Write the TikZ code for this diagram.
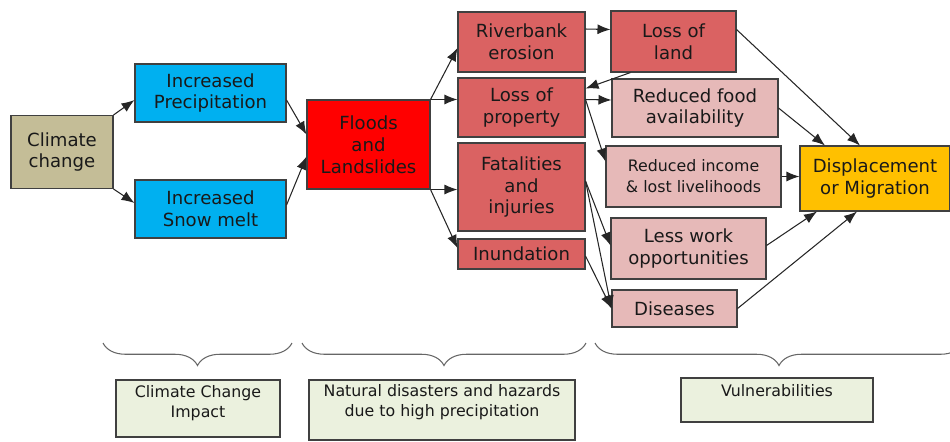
\documentclass[tikz,border=0pt]{standalone}
\usepackage{fontspec}
\setmainfont{DejaVu Sans}
\usepackage{xcolor}
\usetikzlibrary{arrows.meta}
\usetikzlibrary{calc}
\usetikzlibrary{decorations.pathreplacing}

\definecolor{tanbox}{HTML}{C4BD97}
\definecolor{bluebox}{HTML}{00B0F0}
\definecolor{redbox}{HTML}{FF0000}
\definecolor{rosebox}{HTML}{DA6262}
\definecolor{pinkbox}{HTML}{E6B9B8}
\definecolor{orangebox}{HTML}{FFC000}
\definecolor{greenbox}{HTML}{EBF1DE}

\begin{document}
\begin{tikzpicture}[
    x=0.02cm, y=-0.02cm,
    >={Latex[length=2.6mm, width=2mm]},
    box/.style={draw=black!75, line width=0.6pt, align=center, inner sep=1pt,
                text=black!90, font=\fontsize{10.3}{12.5}\selectfont},
    boxsize/.style 2 args={minimum width=#1*0.02cm, minimum height=#2*0.02cm},
    label box/.style={box, fill=greenbox, font=\fontsize{9}{11.5}\selectfont},
    liftby/.style={text depth=#1},
    stage/.style={decorate, decoration={brace, mirror, amplitude=0.45cm},
                  draw=black!60, line width=0.6pt},
    every edge/.append style={draw=black!85, line width=0.6pt, ->}
]
\useasboundingbox (0,0) rectangle (950,441);

% Nodes :
\node[box, fill=tanbox, boxsize={102}{73}] (cc) at (62,152) {Climate\\change};
\node[box, fill=bluebox, boxsize={151}{58}] (prec) at (210.5,93) {Increased\\Precipitation};
\node[box, fill=bluebox, boxsize={151}{58}] (snow) at (210.5,209) {Increased\\Snow melt};
\node[box, fill=redbox, boxsize={123}{89}] (flood) at (368.5,144.5) {Floods\\and\\Landslides};

\node[box, fill=rosebox, boxsize={127}{60}] (erosion) at (521.5,42) {Riverbank\\erosion};
\node[box, fill=rosebox, boxsize={127}{59}] (property) at (521.5,107.5) {Loss of\\property};
\node[box, fill=rosebox, boxsize={127}{88}] (fatal) at (521.5,187) {Fatalities\\and\\injuries};
\node[box, fill=rosebox, boxsize={127}{30}] (inund) at (521.5,254) {Inundation};

\node[box, fill=rosebox, boxsize={125}{61}] (land) at (673.5,41.5) {Loss of\\land};
\node[box, fill=pinkbox, boxsize={166}{58}] (food) at (695,108) {Reduced food\\availability};
\node[box, fill=pinkbox, boxsize={175}{61}, font=\fontsize{9}{12}\selectfont] (income) at (693.5,176.5) {Reduced income\\\& lost livelihoods};
\node[box, fill=pinkbox, boxsize={155}{61}] (work) at (688.5,248.5) {Less work\\opportunities};
\node[box, fill=pinkbox, boxsize={125}{37}] (disease) at (674.5,308.5) {Diseases};

\node[box, fill=orangebox, boxsize={150}{65}] (migr) at (875,178.5) {Displacement\\or Migration};

\node[label box, boxsize={164}{57}, liftby=8pt] (impact) at (198,408.5) {Climate Change\\Impact};
\node[label box, boxsize={266}{60}, liftby=10.5pt] (hazard) at (442,410) {Natural disasters and hazards\\due to high precipitation};
\node[label box, boxsize={192}{44}, liftby=11pt] (vulner) at (777,400) {Vulnerabilities};

% Edges :
\draw (cc.north east) edge ($(prec.west)+(0,7)$);
\draw (cc.south east) edge ($(snow.west)+(0,-6)$);
\draw ($(prec.east)+(0,7)$) edge ($(flood.west)+(0,-10)$);
\draw ($(snow.east)+(0,-4)$) edge ($(flood.west)+(0,12)$);

\draw (flood.north east) edge ($(erosion.west)+(0,6)$);
\draw (flood.north east) edge (flood.north east -| property.west);
\draw (flood.south east) edge (flood.south east -| fatal.west);
\draw (flood.south east) edge ($(inund.west)+(0,-6)$);

\draw ($(erosion.east)+(0,-13)$) edge ($(land.west)+(0,-12)$);
\draw ($(land.south west)+(20,0)$) edge ($(property.east)+(0,-19)$);
\draw ($(property.east)+(0,-8)$) edge ($(food.west)+(0,-8)$);
\draw ($(property.east)+(0,-8)$) edge ($(income.west)+(0,-15)$);
\draw ($(fatal.east)+(0,-6)$) edge ($(work.west)+(0,-3)$);
\draw ($(fatal.east)+(0,-6)$) edge (disease.west);
\draw ($(inund.east)+(0,2)$) edge (disease.west);

\draw ($(land.east)+(0,-12)$) edge ($(migr.north)+(-15,0)$);
\draw (food.east) edge ($(migr.north)+(-50,0)$);
\draw (income.east) edge (income.east -| migr.west);
\draw ($(work.east)+(0,-3)$) edge ($(migr.south)+(-58,0)$);
\draw (disease.east) edge ($(migr.south)+(-18,0)$);

% Stages :
\draw[stage] (103,343) -- (292,343);
\draw[stage] (302,343) -- (586,343);
\draw[stage] (595,343) -- (963,343);

\end{tikzpicture}
\end{document}
